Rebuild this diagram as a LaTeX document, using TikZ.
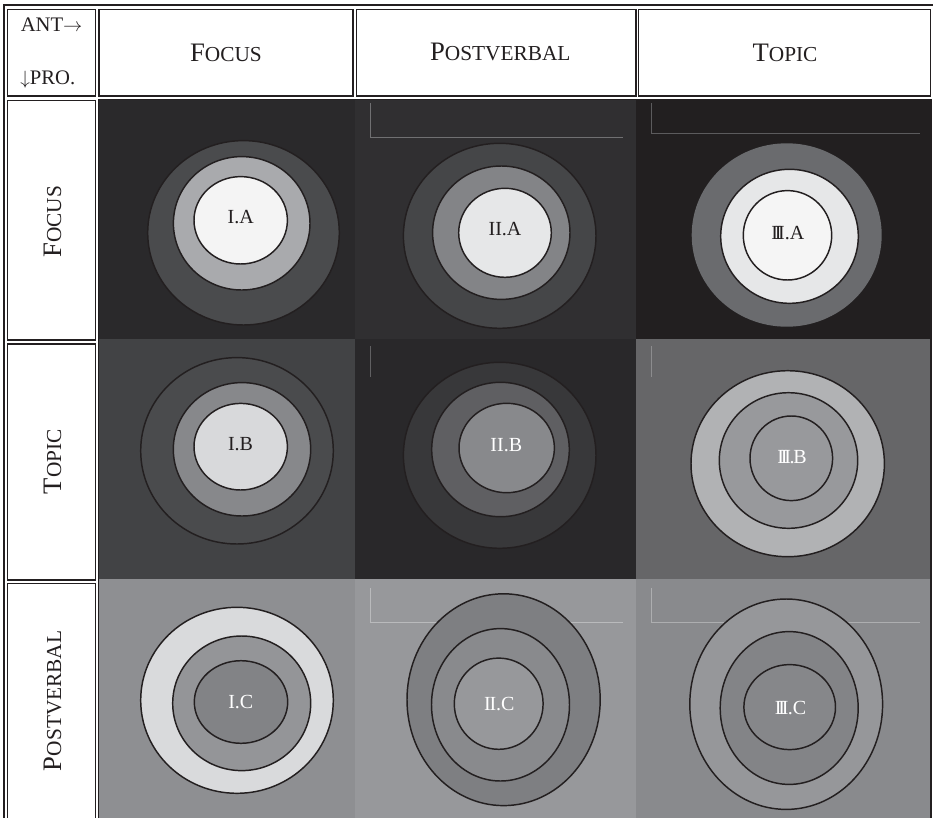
\documentclass[tikz,border=0pt]{standalone}
\usepackage{fontspec}
\setmainfont{Liberation Serif}
\usetikzlibrary{shapes.geometric}

% small caps imitation: large initial, smaller capitals
\newcommand{\scInitial}{\fontsize{20}{24}\selectfont}
\newcommand{\scRest}{\fontsize{16}{19}\selectfont}
\newcommand{\fsc}[2]{{\scInitial #1}{\scRest #2}}
\newcommand{\cellfont}{\fontsize{15}{18}\selectfont}
\newcommand{\cornerfont}{\fontsize{15.5}{18}\selectfont}
\newcommand{\trip}{I\kern-2.4pt I\kern-2.4pt I}

\definecolor{ink}{HTML}{231F20}
% tiles: background, outer ring, middle ring, inner disc, guide line
\definecolor{aBg}{HTML}{2A292B}\definecolor{aO}{HTML}{4A4B4D}\definecolor{aM}{HTML}{A9AAAD}\definecolor{aI}{HTML}{F4F4F4}
\definecolor{bBg}{HTML}{302F31}\definecolor{bO}{HTML}{454648}\definecolor{bM}{HTML}{838487}\definecolor{bI}{HTML}{E6E7E8}\definecolor{bL}{HTML}{707072}
\definecolor{cBg}{HTML}{221F20}\definecolor{cO}{HTML}{6A6B6E}\definecolor{cM}{HTML}{E6E7E8}\definecolor{cI}{HTML}{F5F5F5}\definecolor{cL}{HTML}{5C5B5D}
\definecolor{dBg}{HTML}{424345}\definecolor{dO}{HTML}{4A4B4D}\definecolor{dM}{HTML}{87888B}\definecolor{dI}{HTML}{D8D9DB}
\definecolor{eBg}{HTML}{29282A}\definecolor{eO}{HTML}{38383A}\definecolor{eM}{HTML}{5F5F62}\definecolor{eI}{HTML}{88898C}\definecolor{eL}{HTML}{606062}
\definecolor{fBg}{HTML}{666668}\definecolor{fO}{HTML}{B1B2B4}\definecolor{fM}{HTML}{98999C}\definecolor{fI}{HTML}{98999C}\definecolor{fL}{HTML}{8C8C8E}
\definecolor{gBg}{HTML}{8E8F92}\definecolor{gO}{HTML}{D9DADC}\definecolor{gM}{HTML}{949598}\definecolor{gI}{HTML}{828386}
\definecolor{hBg}{HTML}{97989B}\definecolor{hO}{HTML}{7E7F82}\definecolor{hM}{HTML}{898A8D}\definecolor{hI}{HTML}{97989B}\definecolor{hL}{HTML}{B9BABC}
\definecolor{iBg}{HTML}{898A8D}\definecolor{iO}{HTML}{96979A}\definecolor{iM}{HTML}{838487}\definecolor{iI}{HTML}{86878A}\definecolor{iL}{HTML}{ADAEB0}

\begin{document}
\begin{tikzpicture}[x=0.75pt,y=-0.75pt,
  ring/.style={draw=ink, line width=1.1pt},
  guide/.style={line width=0.75pt},
  cellbox/.style={draw=ink, line width=1.1pt},
  frame/.style={draw=ink, line width=1.5pt},
  lbl/.style={inner sep=0pt, font=\cellfont},
  darklbl/.style={lbl, text=ink},
  lightlbl/.style={lbl, text=white},
  colhead/.style={inner sep=0pt, anchor=base, text=ink},
  rowhead/.style={inner sep=0pt, rotate=90, text=ink},
  corner/.style={inner sep=0pt, anchor=base west, text=ink, font=\cornerfont}]
\useasboundingbox (0,0) rectangle (933,818);
\fill[white] (0,0) rectangle (933,818);

% ---- background tiles ----
\fill[aBg] (99,99.5) rectangle (355,338.5);
\fill[bBg] (355,99.5) rectangle (636,338.5);
\fill[cBg] (636,99.5) rectangle (931,338.5);
\fill[dBg] (99,338.5) rectangle (355,578.5);
\fill[eBg] (355,338.5) rectangle (636,578.5);
\fill[fBg] (636,338.5) rectangle (931,578.5);
\fill[gBg] (99,578.5) rectangle (355,830);
\fill[hBg] (355,578.5) rectangle (636,830);
\fill[iBg] (636,578.5) rectangle (931,830);

% ---- thin guide lines inside the tiles ----
\draw[guide, bL] (370.3,103.3) -- (370.3,137.3) -- (623.3,137.3);
\draw[guide, cL] (651.7,103.3) -- (651.7,133.3) -- (920,133.3);
\draw[guide, eL] (370.7,346) -- (370.7,376.7);
\draw[guide, fL] (651.7,346) -- (651.7,376.7);
\draw[guide, hL] (370.3,588) -- (370.3,622) -- (623,622);
\draw[guide, iL] (651.3,588) -- (651.3,622) -- (920,622);

% ---- concentric rings ----
% I.A
\filldraw[ring, fill=aO] (243.5,232.8) ellipse [x radius=95.8, y radius=92.2];
\filldraw[ring, fill=aM] (241.7,223.3) ellipse [x radius=68.3, y radius=66.7];
\filldraw[ring, fill=aI] (240.7,220.3) ellipse [x radius=46.7, y radius=43.7];
% II.A
\filldraw[ring, fill=bO] (499.7,235.8) ellipse [x radius=96.3, y radius=92.5];
\filldraw[ring, fill=bM] (501.3,232.7) ellipse [x radius=68.7, y radius=66.7];
\filldraw[ring, fill=bI] (505,232.8) ellipse [x radius=46.3, y radius=44.5];
% III.A
\fill[cO] (786.7,235) ellipse [x radius=95, y radius=91.7];
\filldraw[ring, fill=cM] (789.5,236.3) ellipse [x radius=68.8, y radius=67];
\filldraw[ring, fill=cI] (787.5,235.3) ellipse [x radius=44.2, y radius=44.7];
% I.B
\filldraw[ring, fill=dO] (237,450.8) ellipse [x radius=96.3, y radius=93.2];
\filldraw[ring, fill=dM] (242,449.3) ellipse [x radius=68.7, y radius=66.7];
\filldraw[ring, fill=dI] (240.7,446.7) ellipse [x radius=46.7, y radius=43.3];
% II.B
\filldraw[ring, fill=eO] (499.7,455.3) ellipse [x radius=96.3, y radius=93];
\filldraw[ring, fill=eM] (500.5,449.5) ellipse [x radius=68.8, y radius=67.2];
\filldraw[ring, fill=eI] (506.7,448) ellipse [x radius=47.7, y radius=44.7];
% III.B
\filldraw[ring, fill=fO] (787.7,463.7) ellipse [x radius=96.7, y radius=93];
\filldraw[ring, fill=fM] (788.5,460.5) ellipse [x radius=69.2, y radius=67.8];
\filldraw[ring, fill=fI] (791.3,458.3) ellipse [x radius=41.3, y radius=42.3];
% I.C
\filldraw[ring, fill=gO] (237,700.3) ellipse [x radius=96.3, y radius=93];
\filldraw[ring, fill=gM] (241.7,703.3) ellipse [x radius=69, y radius=67.3];
\filldraw[ring, fill=gI] (241,702) ellipse [x radius=46.7, y radius=41.3];
% II.C
\filldraw[ring, fill=hO] (503.6,699.7) ellipse [x radius=96.6, y radius=105.9];
\filldraw[ring, fill=hM] (500.5,704.8) ellipse [x radius=69, y radius=76.2];
\filldraw[ring, fill=hI] (498.7,703.7) ellipse [x radius=44.4, y radius=45.6];
% III.C
\filldraw[ring, fill=iO] (786.2,704.2) ellipse [x radius=96.4, y radius=105.2];
\filldraw[ring, fill=iM] (789.2,708) ellipse [x radius=69, y radius=76.4];
\filldraw[ring, fill=iI] (789.7,707.1) ellipse [x radius=45.8, y radius=42.5];

% ---- cell labels ----
\node[darklbl]  (IA)   at (240.8,217.4) {I.A};
\node[darklbl]  (IIA)  at (505,229.2)   {II.A};
\node[darklbl]  (IIIA) at (787.8,233)   {\trip.A};
\node[darklbl]  (IB)   at (240.5,444.3) {I.B};
\node[lightlbl] (IIB)  at (506.3,445)   {II.B};
\node[lightlbl] (IIIB) at (792,457.5)   {\trip\kern-1pt.\kern-1pt B};
\node[lightlbl] (IC)   at (240.8,702.2) {I.C};
\node[lightlbl] (IIC)  at (499.4,703.9) {I\kern-1pt I.C};
\node[lightlbl] (IIIC) at (790.6,708)   {\trip\kern-0.5pt.C};

% ---- table frame ----
\draw[frame] (3.5,5) rectangle (934,840);
\draw[cellbox] (98.7,99.3) rectangle (931.2,840);
\draw[cellbox] (7.5,9.5) rectangle (95.3,96);
\draw[cellbox] (99,9.5) rectangle (353.2,96);
\draw[cellbox] (356.4,9.5) rectangle (635.9,96);
\draw[cellbox] (638.6,9.5) rectangle (930.6,96);
\draw[cellbox] (7.5,100.7) rectangle (95.3,340);
\draw[cellbox] (7.5,344) rectangle (95.3,580);
\draw[cellbox] (7.5,583.5) rectangle (95.3,840);

% ---- headings ----
\node[corner] (ant) at (20.5,31.7) {ANT$\rightarrow$};
\node[corner] (pro) at (20,84.3) {$\downarrow$PRO.};
\node[colhead] (hFocus) at (226,61) {\fsc{F}{OCUS}};
\node[colhead] (hPost)  at (500.3,60.6) {\fsc{P}{OSTVERBAL}};
\node[colhead] (hTopic) at (785,61) {\fsc{T}{OPIC}};
\node[rowhead] (rFocus) at (52.5,221.7) {\fsc{F}{OCUS}};
\node[rowhead] (rTopic) at (52.5,461.7) {\fsc{T}{OPIC}};
\node[rowhead] (rPost)  at (52.5,700.8) {\fsc{P}{OSTVERBAL}};
\end{tikzpicture}
\end{document}
